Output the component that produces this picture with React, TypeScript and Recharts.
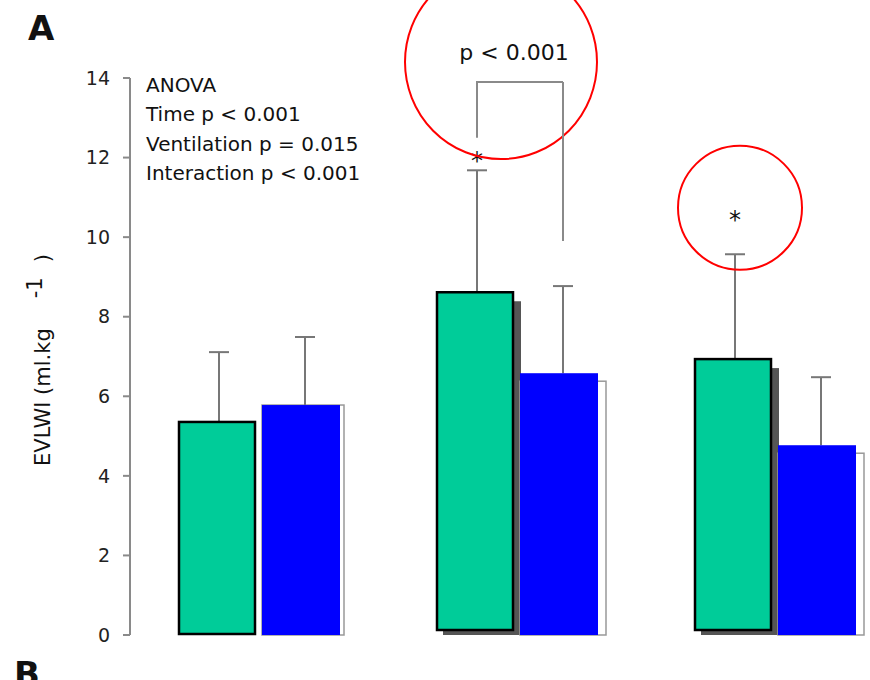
import React from "react";
import { BarChart, Bar, XAxis, YAxis } from "recharts";

// groups (time points) – no labels are printed under the axis
const groups = ["T0", "T1", "T2"];

// EVLWI (ml.kg-1), mean and SD per ventilation mode
const greenMean = [5.38, 8.64, 6.96];
const greenSD = [1.73, 3.04, 2.61];
const blueMean = [5.78, 6.58, 4.77];
const blueSD = [1.71, 2.19, 1.71];

// significance stars above the green bars (value at star centre)
const greenStar = [null, 12.05, 10.55];

// bracket between the two bars of the second group
const bracketGroup = "T1";
const bracketTop = 13.9;
const bracketLeftEnd = 12.5;
const bracketRightEnd = 9.9;
const bracketLabel = "p < 0.001";

const yTicks = [0, 2, 4, 6, 8, 10, 12, 14];
const anovaLines = [
  "ANOVA",
  "Time p < 0.001",
  "Ventilation p = 0.015",
  "Interaction p < 0.001",
];

const data = groups.map((name, i) => ({
  name,
  green: greenMean[i],
  greenSD: greenSD[i],
  blue: blueMean[i],
  blueSD: blueSD[i],
  star: greenStar[i],
}));

const GREEN = "#00CC99";
const BLUE = "#0000FF";
const AXIS = "#8a8a8a";
const ERR = "#777";
const RED = "#FF0000";
const FONT = "DejaVu Sans";
const BAR_GAP = 6;

const GreenBar = (props: any) => {
  const { x, y, width, height, payload } = props;
  const base = y + height;
  const unit = height / payload.green; // px per ml/kg, from the bar itself
  const yOf = (v: number) => base - v * unit;
  const cx = x + width / 2 + 2;
  const shadow = payload.name !== groups[0];
  const lift = shadow ? 4 : 0;
  const errTop = yOf(payload.green + payload.greenSD);
  const isBracket = payload.name === bracketGroup;
  const rightX = x + width + BAR_GAP + width / 2 + 4;
  return (
    <g>
      {shadow && (
        <rect x={x + 7} y={y + 10} width={width} height={height - 10} fill="#555" />
      )}
      {/* error bar (upper half only) */}
      <line x1={cx} x2={cx} y1={y} y2={errTop} stroke={ERR} strokeWidth={2} />
      <line x1={cx - 10} x2={cx + 10} y1={errTop} y2={errTop} stroke={ERR} strokeWidth={2} />
      <rect
        x={x + 1}
        y={y + 1}
        width={width - 2}
        height={height - 2 - lift}
        fill={GREEN}
        stroke="#000"
        strokeWidth={2.5}
      />
      {payload.star != null && (
        <text
          x={cx}
          y={yOf(payload.star) + 13}
          textAnchor="middle"
          fontFamily={FONT}
          fontSize={24}
          fill="#111"
        >
          *
        </text>
      )}
      {isBracket && (
        <g>
          <polyline
            points={`${cx},${yOf(bracketLeftEnd)} ${cx},${yOf(bracketTop)} ${rightX},${yOf(bracketTop)}`}
            fill="none"
            stroke={AXIS}
            strokeWidth={2}
          />
          <text
            x={(cx + rightX) / 2 - 6}
            y={yOf(14.45)}
            textAnchor="middle"
            fontFamily={FONT}
            fontSize={22}
            fill="#111"
          >
            {bracketLabel}
          </text>
          <ellipse
            cx={(cx + rightX) / 2 - 19}
            cy={yOf(14.4)}
            rx={96}
            ry={97}
            fill="none"
            stroke={RED}
            strokeWidth={2}
          />
        </g>
      )}
      {payload.name === groups[2] && payload.star != null && (
        <circle cx={cx + 5} cy={yOf(payload.star + 0.19)} r={62} fill="none" stroke={RED} strokeWidth={2} />
      )}
    </g>
  );
};

const BlueBar = (props: any) => {
  const { x, y, width, height, payload } = props;
  const base = y + height;
  const unit = height / payload.blue;
  const yOf = (v: number) => base - v * unit;
  const cx = x + width / 2 + 4;
  const first = payload.name === groups[0];
  const dx = first ? 4 : 8;
  const dy = first ? 0 : 8;
  const errTop = yOf(payload.blue + payload.blueSD);
  return (
    <g>
      <rect
        x={x}
        y={y + dy}
        width={width + dx}
        height={height - dy}
        fill="#fff"
        stroke="#999"
        strokeWidth={1.5}
      />
      <line x1={cx} x2={cx} y1={y} y2={errTop} stroke={ERR} strokeWidth={2} />
      <line x1={cx - 10} x2={cx + 10} y1={errTop} y2={errTop} stroke={ERR} strokeWidth={2} />
      <rect x={x} y={y} width={width} height={height} fill={BLUE} />
      {payload.name === bracketGroup && (
        <line
          x1={cx}
          x2={cx}
          y1={yOf(bracketTop)}
          y2={yOf(bracketRightEnd)}
          stroke={AXIS}
          strokeWidth={2}
        />
      )}
    </g>
  );
};

export default function App() {
  return (
    <div
      style={{
        position: "absolute",
        left: 0,
        top: 0,
        width: 870,
        height: 680,
        overflow: "hidden",
        background: "#fff",
      }}
    >
      <BarChart
        width={910}
        height={680}
        data={data}
        margin={{ top: 78, right: 6, bottom: 45, left: 70 }}
        barSize={78}
        barGap={BAR_GAP}
      >
        <XAxis
          dataKey="name"
          height={0}
          tick={false}
          tickLine={false}
          axisLine={{ stroke: AXIS, strokeWidth: 2 }}
        />
        <YAxis
          width={60}
          domain={[0, 14]}
          ticks={yTicks}
          interval={0}
          tickSize={7}
          tickMargin={13}
          axisLine={{ stroke: AXIS, strokeWidth: 2 }}
          tickLine={{ stroke: AXIS, strokeWidth: 2 }}
          tick={{ fill: "#222", fontSize: 19, fontFamily: FONT }}
        />
        <Bar dataKey="green" shape={GreenBar} isAnimationActive={false} />
        <Bar dataKey="blue" shape={BlueBar} isAnimationActive={false} />
      </BarChart>

      <svg
        width={870}
        height={680}
        style={{ position: "absolute", left: 0, top: 0, pointerEvents: "none" }}
      >
        <text x={28} y={40} fontFamily={FONT} fontWeight="bold" fontSize={34} fill="#111">
          A
        </text>
        <text x={14} y={686} fontFamily={FONT} fontWeight="bold" fontSize={34} fill="#111">
          B
        </text>
        {anovaLines.map((line, i) => (
          <text key={line} x={146} y={92 + i * 29.3} fontFamily={FONT} fontSize={20} fill="#111">
            {line}
          </text>
        ))}
        <text
          x={50}
          y={360}
          transform="rotate(-90 50 360)"
          textAnchor="middle"
          fontFamily={FONT}
          fontSize={21}
          fill="#111"
        >
          EVLWI (ml.kg
          <tspan dx={30} dy={-8}>
            -1
          </tspan>
          <tspan dx={15} dy={8}>
            )
          </tspan>
        </text>
      </svg>
    </div>
  );
}
